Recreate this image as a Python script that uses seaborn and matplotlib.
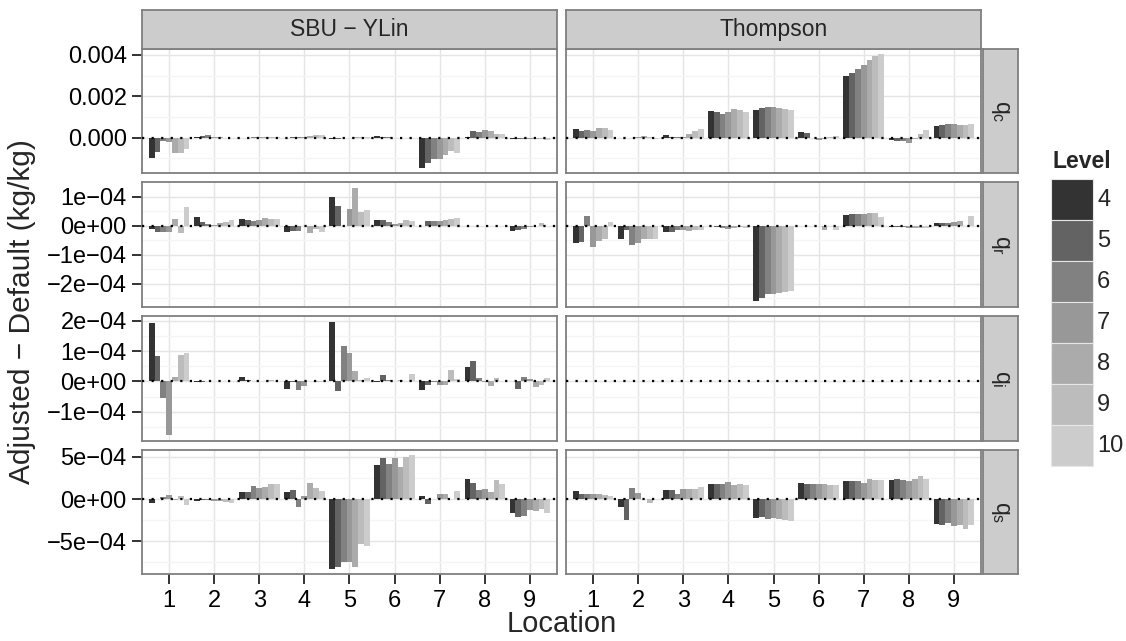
import pandas as pd
import matplotlib
matplotlib.use("Agg")
import matplotlib.pyplot as plt
from matplotlib.patches import Rectangle
import seaborn as sns

# categorias
locations = ["1", "2", "3", "4", "5", "6", "7", "8", "9"]
levels = ["4", "5", "6", "7", "8", "9", "10"]
schemes = ["SBU \u2212 YLin", "Thompson"]
species = ["qc", "qr", "qi", "qs"]
species_labels = [r"$\mathregular{q_c}$", r"$\mathregular{q_r}$",
                  r"$\mathregular{q_i}$", r"$\mathregular{q_s}$"]
level_colors = ["#333333", "#636363", "#818181", "#989898", "#ABABAB", "#BCBCBC", "#CCCCCC"]

# ticks del eje y por fila
yticks = [[0.0, 0.002, 0.004],
          [-2e-4, -1e-4, 0.0, 1e-4],
          [-1e-4, 0.0, 1e-4, 2e-4],
          [-5e-4, 0.0, 5e-4]]
ytick_labels = [["0.000", "0.002", "0.004"],
                ["\u22122e\u221204", "\u22121e\u221204", "0e+00", "1e\u221204"],
                ["\u22121e\u221204", "0e+00", "1e\u221204", "2e\u221204"],
                ["\u22125e\u221204", "0e+00", "5e\u221204"]]
yminor = [[-0.001, 0.001, 0.003],
          [-2.5e-4, -1.5e-4, -0.5e-4, 0.5e-4],
          [-1.5e-4, -0.5e-4, 0.5e-4, 1.5e-4],
          [-7.5e-4, -2.5e-4, 2.5e-4]]

# valores (una fila por Location, columnas = Level 4..10)
sbu_qc = [
    [-9.6e-4, -6.9e-4, -1.4e-4, -2.0e-4, -7.2e-4, -7.2e-4, -5.3e-4],
    [5e-5, 8e-5, 1.5e-4, 5e-5, 2e-5, 0, 0],
    [-1e-5, 0, 1e-5, 1e-5, 2e-5, 3e-5, 2e-5],
    [-2e-5, 1e-5, 3e-5, 5e-5, 1.0e-4, 1.5e-4, 1.5e-4],
    [-8e-5, -5e-5, -3e-5, 0, 1e-5, 1e-5, 1e-5],
    [1.0e-4, 5e-5, 1e-5, 0, -1e-5, -1e-5, 0],
    [-1.45e-3, -1.24e-3, -1.01e-3, -1.01e-3, -8.4e-4, -6.4e-4, -7.2e-4],
    [2e-5, 3.2e-4, 2.7e-4, 3.7e-4, 3.2e-4, 1.6e-4, 1.6e-4],
    [-4e-5, -8e-5, -6e-5, -6e-5, -6e-5, -8e-5, -1.1e-4],
]
thompson_qc = [
    [4.2e-4, 3.2e-4, 3.7e-4, 3.2e-4, 4.7e-4, 4.7e-4, 3.7e-4],
    [-2e-5, -2e-5, -2e-5, 2e-5, 8e-5, 3e-5, -8e-5],
    [1.1e-4, 5e-5, 2e-5, 5e-5, 1.6e-4, 3.2e-4, 4.2e-4],
    [1.28e-3, 1.24e-3, 1.14e-3, 1.24e-3, 1.37e-3, 1.33e-3, 1.24e-3],
    [1.33e-3, 1.41e-3, 1.48e-3, 1.48e-3, 1.43e-3, 1.40e-3, 1.33e-3],
    [2.7e-4, 2.1e-4, -3e-5, -1.1e-4, -6e-5, 5e-5, 6e-5],
    [2.97e-3, 3.12e-3, 3.31e-3, 3.52e-3, 3.74e-3, 3.95e-3, 4.03e-3],
    [-1.1e-4, -1.4e-4, -1.8e-4, -2.4e-4, -8e-5, 1.6e-4, 3.7e-4],
    [5.6e-4, 6.1e-4, 6.6e-4, 6.6e-4, 6.1e-4, 6.1e-4, 6.6e-4],
]
sbu_qr = [
    [-1.2e-5, -2.2e-5, -2.2e-5, -2.2e-5, 2.3e-5, -2.5e-5, 6.4e-5],
    [2.9e-5, 1.2e-5, 5e-6, 2e-6, 9e-6, 1.3e-5, 2.0e-5],
    [2.3e-5, 1.8e-5, 1.5e-5, 2.0e-5, 2.6e-5, 2.3e-5, 2.3e-5],
    [-2.2e-5, -2.0e-5, -1.7e-5, -1e-6, -2.5e-5, -1.0e-5, -2.2e-5],
    [9.8e-5, 6.8e-5, -1e-6, 5.8e-5, 1.3e-4, 4.6e-5, 5.4e-5],
    [2.0e-5, 2.0e-5, 1.2e-5, 5e-6, 8e-6, 1.8e-5, 1.5e-5],
    [-1e-6, 1.5e-5, 1.5e-5, 1.5e-5, 2.0e-5, 2.3e-5, 2.6e-5],
    [-2e-6, -1e-6, 0, -1e-6, 0, -1e-6, -1e-6],
    [-1.7e-5, -1.4e-5, -1.0e-5, -5e-6, -1e-6, 8e-6, -1e-6],
]
thompson_qr = [
    [-6.0e-5, -5.7e-5, 3.2e-5, -7.4e-5, -5.3e-5, -4.5e-5, 1.2e-5],
    [-4.6e-5, -1.6e-5, -6.7e-5, -6.0e-5, -4.5e-5, -4.5e-5, -4.5e-5],
    [-2.2e-5, -2.1e-5, -1.4e-5, -1.6e-5, -1.8e-5, -1.6e-5, -1.4e-5],
    [-2e-6, -5e-6, -9e-6, -1.3e-5, -7e-6, -5e-6, -7e-6],
    [-2.61e-4, -2.50e-4, -2.37e-4, -2.37e-4, -2.33e-4, -2.30e-4, -2.25e-4],
    [-1e-6, -1e-6, 0, -1e-6, -1.4e-5, -1e-6, -1.4e-5],
    [3.6e-5, 3.9e-5, 3.9e-5, 4.0e-5, 4.3e-5, 4.3e-5, 2.9e-5],
    [-6e-6, -5e-6, -5e-6, -7e-6, -7e-6, -7e-6, -7e-6],
    [1.0e-5, 1.0e-5, 1.0e-5, 1.3e-5, 1.5e-5, -1e-6, 3.2e-5],
]
sbu_qi = [
    [1.91e-4, 8.2e-5, -5.5e-5, -1.77e-4, 1.3e-5, 8.6e-5, 9.3e-5],
    [-2e-6, -1e-6, 0, 0, 0, 0, 0],
    [1.3e-5, 3e-6, 1e-6, 0, 0, 5e-6, 0],
    [-2.6e-5, -2e-6, -3.0e-5, -1.6e-5, 0, -3e-6, -1e-6],
    [1.97e-4, -3.2e-5, 1.15e-4, 9.5e-5, 3.3e-5, 3e-6, 1.0e-5],
    [-3e-6, 2.0e-5, 3e-6, 0, 3e-6, 0, 2.3e-5],
    [-3.0e-5, -1.2e-5, -1e-6, -1.2e-5, -1.2e-5, 3.9e-5, 7e-6],
    [4.9e-5, 6.6e-5, 1.0e-5, -3e-6, -1.6e-5, 1.0e-5, 0],
    [0, -2.6e-5, 1.3e-5, 7e-6, -1.9e-5, -1.2e-5, 1.0e-5],
]
thompson_qi = [
    [0, 0, 0, 0, 0, 0, 0],
    [0, 0, 0, 0, 0, 0, 0],
    [0, 0, 0, 0, 0, 0, 0],
    [0, 0, 0, 0, 0, 0, 0],
    [2e-6, 2e-6, 1e-6, 1e-6, 1e-6, 1e-6, 1e-6],
    [0, 0, 0, 0, 0, 0, 0],
    [0, 0, 0, 0, 0, 0, 0],
    [0, 0, 0, 0, 0, 0, 0],
    [0, 0, 0, 0, 0, 0, 0],
]
sbu_qs = [
    [-4.7e-5, -2e-6, 2.0e-5, 5.0e-5, -1.6e-5, 3.9e-5, -6.7e-5],
    [-2.7e-5, -1.6e-5, -8e-6, -2.7e-5, -2.7e-5, -3.5e-5, -4.7e-5],
    [8.6e-5, 8.6e-5, 1.57e-4, 1.30e-4, 1.41e-4, 1.80e-4, 1.80e-4],
    [8.6e-5, 1.02e-4, -9.8e-5, 3.9e-5, 1.92e-4, 1.30e-4, 9.8e-5],
    [-8.3e-4, -8.1e-4, -7.45e-4, -7.45e-4, -8.1e-4, -5.4e-4, -5.6e-4],
    [4.04e-4, 4.86e-4, 4.16e-4, 4.86e-4, 3.80e-4, 4.98e-4, 5.20e-4],
    [3.9e-5, -6.3e-5, -2e-6, 6.3e-5, 6.3e-5, -2e-6, 9.0e-5],
    [2.40e-4, 1.92e-4, 1.02e-4, 1.25e-4, 8.6e-5, 2.30e-4, 1.80e-4],
    [-1.69e-4, -2.16e-4, -2.04e-4, -1.30e-4, -1.45e-4, -1.18e-4, -1.69e-4],
]
thompson_qs = [
    [9.8e-5, 6.3e-5, 6.3e-5, 6.3e-5, 5.5e-5, 4.3e-5, 3.5e-5],
    [-9.8e-5, -2.51e-4, 1.33e-4, 7.4e-5, 0, -4.7e-5, 0],
    [1.10e-4, 1.10e-4, 6.3e-5, 1.14e-4, 1.25e-4, 1.20e-4, 1.37e-4],
    [1.80e-4, 1.80e-4, 1.80e-4, 2.04e-4, 1.61e-4, 1.80e-4, 1.65e-4],
    [-2.27e-4, -2.12e-4, -2.35e-4, -2.23e-4, -2.43e-4, -2.51e-4, -2.63e-4],
    [1.92e-4, 1.80e-4, 1.80e-4, 1.80e-4, 1.80e-4, 1.69e-4, 1.69e-4],
    [2.16e-4, 2.16e-4, 2.12e-4, 1.92e-4, 2.40e-4, 2.27e-4, 2.27e-4],
    [2.27e-4, 2.40e-4, 2.27e-4, 2.20e-4, 2.40e-4, 2.70e-4, 2.40e-4],
    [-2.98e-4, -3.10e-4, -2.90e-4, -3.21e-4, -3.14e-4, -3.57e-4, -3.14e-4],
]

series = {
    (schemes[0], "qc"): sbu_qc, (schemes[1], "qc"): thompson_qc,
    (schemes[0], "qr"): sbu_qr, (schemes[1], "qr"): thompson_qr,
    (schemes[0], "qi"): sbu_qi, (schemes[1], "qi"): thompson_qi,
    (schemes[0], "qs"): sbu_qs, (schemes[1], "qs"): thompson_qs,
}

# tabla larga
rows = []
for (scheme, sp), vals in series.items():
    for loc, lev_vals in zip(locations, vals):
        for lev, v in zip(levels, lev_vals):
            rows.append((scheme, sp, loc, lev, v))
df = pd.DataFrame(rows, columns=["scheme", "species", "Location", "Level", "value"])

sns.set_theme(style="white")
plt.rcParams["font.family"] = ["Liberation Sans", "DejaVu Sans"]

W, H = 1126, 641
fig, axes = plt.subplots(4, 2, figsize=(W / 100, H / 100), dpi=100, sharex=True, sharey="row")
fig.subplots_adjust(left=142 / W, right=981 / W, top=1 - 48.5 / H, bottom=1 - 574.5 / H,
                    wspace=0.0217, hspace=0.0705)

for i, sp in enumerate(species):
    for j, scheme in enumerate(schemes):
        ax = axes[i, j]
        sub = df[(df["species"] == sp) & (df["scheme"] == scheme)]
        sns.barplot(data=sub, x="Location", y="value", hue="Level", order=locations,
                    hue_order=levels, palette=level_colors, width=0.9, gap=0,
                    errorbar=None, linewidth=0, saturation=1, legend=False, ax=ax)

for i in range(4):
    axes[i, 0].set_yticks(yticks[i], labels=ytick_labels[i])
    axes[i, 0].set_yticks(yminor[i], minor=True)
    for j in range(2):
        ax = axes[i, j]
        ax.set_xlim(-0.6, 8.6)
        ax.set_xlabel("")
        ax.set_ylabel("")
        ax.set_facecolor("white")
        ax.axhline(0, color="black", linestyle=(0, (1, 3.3)), lw=1.6, zorder=5)
        ax.grid(True, which="major", color="#E5E5E5", lw=1)
        ax.grid(True, which="minor", axis="y", color="#F5F5F5", lw=1)
        ax.set_axisbelow(True)
        for s in ax.spines.values():
            s.set_color("#7F7F7F")
            s.set_linewidth(1.3)
        ax.tick_params(which="major", direction="out", length=7, width=1.4, color="#333333",
                       labelsize=17, labelcolor="black", pad=4)
        ax.tick_params(which="minor", length=0)
        ax.tick_params(axis="y", left=(j == 0))
        ax.tick_params(axis="x", bottom=(i == 3))

# tiras de facetas
def strip(rect, label, rot=0):
    sax = fig.add_axes(rect)
    sax.set_facecolor("#CCCCCC")
    sax.set_xticks([])
    sax.set_yticks([])
    for s in sax.spines.values():
        s.set_color("#7F7F7F")
        s.set_linewidth(1.3)
    sax.text(0.5, 0.5, label, ha="center", va="center", rotation=rot, fontsize=16.5,
             transform=sax.transAxes)

for j, scheme in enumerate(schemes):
    pos = axes[0, j].get_position()
    strip([pos.x0, pos.y1, pos.width, 38.5 / H], scheme)
for i, lab in enumerate(species_labels):
    pos = axes[i, 1].get_position()
    strip([983 / W, pos.y0, 34.5 / W, pos.height], lab, rot=-90)

fig.text(22 / W, 1 - 311.5 / H, "Adjusted \u2212 Default (kg/kg)", rotation=90,
         ha="center", va="center", fontsize=21.5)
fig.text(561.5 / W, 1 - 624 / H, "Location", ha="center", va="center", fontsize=21)

# leyenda
key_w, key_h = 42.3 / W, 41 / H
fig.text(1052 / W, 1 - 162 / H, "Level", ha="left", va="center", fontsize=16.5,
         fontweight="bold")
for k, (lev, c) in enumerate(zip(levels, level_colors)):
    y0 = 1 - (179.3 + (k + 1) * 41) / H
    fig.add_artist(Rectangle((1050.7 / W, y0), key_w, key_h, transform=fig.transFigure,
                             facecolor=c, edgecolor="#E6E6E6", lw=0.8))
    fig.text(1097 / W, y0 + key_h / 2, lev, ha="left", va="center", fontsize=17)

fig.savefig("out.png", dpi=100)
